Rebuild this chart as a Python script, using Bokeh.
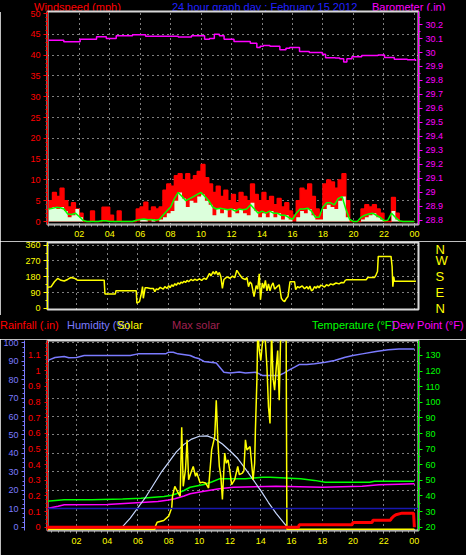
import numpy as np
from bokeh.plotting import figure
from bokeh.models import Range1d, LinearAxis, FixedTicker, Grid, Span, Div
from bokeh.layouts import column
from bokeh.embed import file_html
from bokeh.resources import INLINE

FONT = "Liberation Sans"

# ---------------- data ----------------
hour_ticks = [2, 4, 6, 8, 10, 12, 14, 16, 18, 20, 22, 24]
hour_labels = ["02", "04", "06", "08", "10", "12", "14", "16", "18", "20", "22", "00"]

# wind, 15-minute samples
wind_t = list(np.arange(0, 24.001, 0.25))
wind_gust = [5, 7, 6, 8, 5, 3.5, 4.5, 3, 2,
             0, 0, 2.5, 0, 0, 3.4, 3.4, 1.5, 0, 2.5, 0, 0, 0, 0,
             3, 3.5, 4.6, 2.5, 3.5, 3, 3.5,
             7.5, 9, 8.5,
             11, 11.5, 10, 11.5, 10, 11, 12, 13.7, 10.5, 9,
             7, 8.5, 6, 7.5, 5, 6.5, 4.5, 7, 6, 5, 9, 6.5, 5,
             7, 5, 6, 4, 5.5, 3.5, 4.5, 2.5, 1.5,
             5, 8, 7.5, 9, 6, 3,
             2, 9, 10, 9.5, 8, 10, 11.5, 5,
             0, 0, 0,
             3, 4, 3.5, 4, 3, 2,
             0, 0, 5.8, 2,
             0, 0, 0, 0, 0]
wind_speed = [3, 3.5, 3, 3.5, 2.5, 1, 1.5, 3, 1,
              0, 0, 0, 0, 0, 0, 0, 0, 0, 0, 0, 0, 0, 0,
              0, 0.5, 0.5, 0, 0.5, 0, 0.5,
              1, 2, 2.5,
              5, 7, 5.5, 3.5, 5, 4.5, 6, 6.5, 5, 4,
              1.5, 3, 2, 3, 1, 3, 2, 3, 2, 1.5, 4.5, 2.5, 1,
              2, 1, 2.5, 1, 2, 0.5, 1.5, 0.5, 0,
              1, 2.5, 2, 3, 1.5, 0.5,
              0.5, 3, 4, 3.5, 3, 5, 6, 1,
              0, 0, 0,
              0.5, 1, 1.5, 2, 1, 0.5,
              0, 0, 2.5, 0.5,
              0, 0, 0, 0, 0]
wind_avg = [3, 3.2, 3.4, 3.3, 3, 1.8, 1.7, 2, 1.2,
            0.3, 0, 0, 0, 0, 0.2, 0.2, 0, 0, 0, 0, 0, 0, 0,
            0.3, 0.5, 0.6, 0.4, 0.5, 0.3, 0.5,
            1.5, 2.5, 3.5,
            5.5, 7, 6, 5, 5.5, 6, 6.5, 7, 6, 5,
            3.5, 3, 3.2, 3, 2.8, 3, 2.5, 3, 2.8, 3, 4, 3, 2,
            2.5, 2, 2.5, 2, 2, 1.5, 1.5, 1, 0.5,
            2, 3, 3, 3.2, 2.5, 1,
            1, 3.5, 4.5, 4.5, 4, 5.5, 6, 3,
            0.5, 0, 0,
            1, 1.5, 1.8, 2, 1.5, 1,
            0.2, 0.3, 2, 1,
            0.2, 0, 0, 0, 0]

baro_t = [0.0, 0.13, 0.99, 2.06, 3.14, 3.78, 4.43, 5.5, 6.36, 7.44, 8.5, 9.37, 10.23, 10.55,
          10.87, 11.2, 11.51, 12.16, 13.23, 13.66, 13.88, 14.09, 14.52, 15.17, 15.57, 15.81,
          16.46, 17.1, 17.96, 18.17, 18.81, 19.1, 19.36, 19.57, 19.9, 20.54, 21.61, 22.04,
          22.68, 23.54, 24.08]
baro = [30.088, 30.088, 30.076, 30.095, 30.112, 30.100, 30.120, 30.126, 30.117, 30.117, 30.110,
        30.120, 30.095, 30.100, 30.130, 30.120, 30.095, 30.079, 30.067, 30.036, 30.045, 30.050,
        30.045, 30.019, 30.030, 30.036, 30.007, 30.000, 29.988, 29.962, 29.960, 29.955, 29.933,
        29.955, 29.969, 29.978, 29.982, 29.964, 29.952, 29.948, 29.940]
baro_ticks = [28.8, 28.9, 29, 29.1, 29.2, 29.3, 29.4, 29.5, 29.6, 29.7, 29.8, 29.9, 30, 30.1, 30.2]

dir_t = [0.1, 0.35, 0.56, 0.77, 0.99, 1.2, 1.42, 1.64, 1.85, 2.06, 2.3, 3.8, 3.85, 4.53, 4.57,
         5.89, 5.93, 6.1, 6.2, 6.3, 6.35, 6.47, 6.6, 6.8, 7.0, 7.1, 7.2, 7.3, 7.45, 7.65, 7.75,
         7.9, 8.0, 8.1, 8.2, 8.3, 8.4, 8.5, 8.6, 8.72, 8.8, 8.9, 9.0, 9.1, 9.2, 9.3, 9.45, 9.58,
         9.7, 9.85, 10.0, 10.15, 10.3, 10.45, 10.66, 10.75, 10.9, 11.0, 11.1, 11.2, 11.3, 11.4,
         11.5, 11.6, 11.8, 12.0, 12.16, 12.3, 12.44, 12.6, 12.8, 13.0, 13.1, 13.2, 13.3, 13.4,
         13.56, 13.7, 13.8, 13.9, 13.98, 14.1, 14.2, 14.3, 14.4, 14.5, 14.6, 14.7, 14.8, 14.9,
         15.06, 15.2, 15.34, 15.45, 15.55, 15.65, 15.77, 15.9, 16.2, 16.27, 16.4, 16.5, 16.7,
         16.85, 17.0, 17.1, 17.2, 17.3, 17.4, 17.5, 17.6, 17.7, 17.8, 17.9, 18.0, 18.15, 18.28,
         18.4, 18.55, 18.7, 18.9, 19.1, 19.25, 19.4, 19.5, 19.57, 20.86, 20.97, 21.4, 21.5,
         21.6, 21.65, 22.48, 22.55, 22.6, 22.66, 22.7, 24.1]
dir_deg = [120, 124, 152, 171, 160, 156, 165, 176, 172, 161, 161, 161, 83, 83, 101,
           101, 30, 39, 75, 124, 58, 118, 118, 114, 114, 96, 112, 107, 120, 110, 124,
           115, 130, 118, 135, 125, 141, 132, 146, 138, 150, 145, 155, 148, 160, 152, 165, 158,
           166, 160, 168, 160, 172, 165, 199, 185, 210, 195, 212, 190, 205, 180,
           114, 165, 180, 172, 184, 175, 217, 195, 172, 165, 176, 124, 150, 140,
           68, 130, 110, 197, 50, 145, 115, 160, 100, 140, 101, 130, 145, 110,
           124, 135, 58, 45, 39, 55, 68, 152, 152, 107, 125, 118, 128,
           112, 124, 110, 128, 100, 107, 125, 115, 128, 118, 132, 130, 122, 135,
           128, 140, 135, 145, 140, 148, 146, 160, 163, 163, 176, 176, 190,
           210, 296, 296, 240, 124, 180, 155, 155]
compass_ticks = [0, 90, 180, 270, 360]
compass_labels = ["N", "E", "S", "W", "N"]

hum_t = [0.0, 0.3, 0.6, 1.2, 1.5, 2.0, 2.5, 5.5, 6.0, 7.8, 8.0, 8.3, 8.6, 9.4, 9.7, 10.0, 10.3,
         11.1, 11.3, 11.6, 12.0, 12.6, 13.0, 13.7, 14.1, 15.2, 15.5, 15.8, 16.2, 16.5, 17.0,
         17.5, 18.2, 18.8, 19.5, 20.0, 20.6, 21.5, 22.3, 23.0, 24.0]
hum = [90, 91, 92, 92.6, 91.9, 92, 93.1, 93.1, 94, 94, 94.9, 94.9, 94, 93.1, 92, 91.3, 89.9,
       89, 87, 84, 83.6, 84.2, 83.6, 84, 82.3, 82.3, 83.6, 85, 86.8, 88.2, 88.2,
       88.6, 89.5, 90.4, 92.2, 93.1, 94, 95.3, 96.2, 96.7, 96.7]
hum_ticks = [0, 10, 20, 30, 40, 50, 60, 70, 80, 90, 100]

temp_t = [0.0, 1.2, 3.0, 5.0, 6.2, 7.7, 8.2, 8.5, 9.0, 9.4, 10.3, 10.8, 11.3, 13.0, 13.5, 14.1,
          14.6, 15.6, 16.6, 17.5, 18.2, 21.1, 21.4, 24.0]
temp = [36.5, 37.6, 37.6, 38.0, 38.6, 39.7, 40.5, 41.4, 43.5, 45.6, 47.4, 49, 51, 51, 51.5, 52,
        52, 51.5, 51, 50, 48.8, 48.8, 49.5, 49.5]
dew_t = [0.0, 0.8, 1.2, 4.0, 7.3, 8.0, 8.4, 9.0, 9.4, 10.3, 11.3, 12.2, 15.0, 16.5, 18.0, 20.6,
         21.7, 23.0, 24.0]
dew = [31.8, 33.5, 34.4, 34.5, 36.5, 37.5, 38.2, 40, 41.4, 43, 44.6, 45.6, 46.3, 46, 45.6, 46.3,
       47.2, 47.6, 47.8]
temp_ticks = [20, 30, 40, 50, 60, 70, 80, 90, 100, 110, 120, 130]
freeze_temp = 32

rain_t = [0, 16.45, 16.5, 19.95, 20.0, 21.25, 21.3, 22.45, 22.5, 22.65, 22.8, 23.2, 23.95, 24.0]
rain = [0, 0, 0.015, 0.015, 0.03, 0.03, 0.045, 0.045, 0.055, 0.07, 0.08, 0.09, 0.09, 0]
rain_ticks = [0, 0.1, 0.2, 0.3, 0.4, 0.5, 0.6, 0.7, 0.8, 0.9, 1, 1.1]

solar_t = [0, 7.1, 7.14, 7.25, 7.68, 8.0, 8.2, 8.25, 8.4, 8.6, 8.75, 8.85, 8.95, 9.1, 9.2, 9.3,
           9.45, 9.6, 9.75, 9.83, 10.05, 10.2, 10.4, 10.6, 10.8, 11.0, 11.1, 11.2, 11.3, 11.4,
           11.5, 11.65, 11.75, 11.87, 12.0, 12.1, 12.3, 12.5, 12.6, 12.8, 12.9, 13.0, 13.1,
           13.3, 13.5, 13.6, 13.65, 13.75, 13.8, 13.9, 14.0, 14.1, 14.2, 14.3, 14.4, 14.5,
           14.6, 14.7, 14.8, 14.9, 15.0, 15.1, 15.2, 15.3, 15.65, 15.7, 24.0]
solar = [0, 0, 17, 38, 47, 70, 114, 175, 228, 196, 175, 540, 228, 320, 474, 263,
         300, 333, 281, 300, 246, 250, 246, 219, 421, 491, 684, 474, 333, 280,
         158, 404, 350, 368, 300, 237, 263, 333, 290, 298, 310, 474, 420,
         439, 263, 350, 526, 800, 1050, 950, 895, 980, 1050, 990, 860, 649,
         561, 1050, 800, 737, 850, 947, 684, 1050, 1050, 0, 0]
maxsol_t = [5.0, 5.5, 6.0, 6.5, 7.0, 7.5, 8.0, 8.5, 9.0, 9.5, 10.0, 10.5, 11.0, 11.5, 12.0, 12.5,
            13.0, 13.5, 14.0, 14.5, 15.0, 15.5, 15.7]
maxsol = [15, 60, 115, 170, 235, 300, 355, 410, 450, 478, 493, 495, 480, 452, 415, 375,
          320, 263, 205, 142, 85, 35, 15]

top_titles = ["Windspeed (mph)", "24 hour graph day : February 15 2012", "Barometer (.in)"]
top_colors = ["#ff0000", "#2020ff", "#ff00ff"]
low_titles = ["Rainfall (.in)", "Humidity (%)", "Solar", "Max solar", "Temperature (&deg;F)",
              "Dew Point (&deg;F)"]
low_colors = ["#ff0000", "#7b7bff", "#ffff00", "#a02050", "#00ff00", "#ff00ff"]

# ---------------- helpers ----------------
BG = "black"
XMINOR = [i * 0.4 for i in range(61)]


def make_fig(height, xr, yr, left, right, top, bottom):
    p = figure(width=466, height=height, x_range=xr, y_range=yr, title=None,
               output_backend="svg", toolbar_location=None,
               x_axis_location=None, y_axis_location=None,
               background_fill_color=BG, border_fill_color=BG,
               min_border_left=left, min_border_right=right,
               min_border_top=top, min_border_bottom=bottom)
    p.center = [r for r in p.center if not isinstance(r, Grid)]
    p.outline_line_color = "#d8d8d8"
    p.outline_line_width = 2
    return p


def text_strip(height, xs, top, texts, colors):
    spans = "".join(
        f'<span style="position:absolute;left:{x}px;top:{top}px;color:{c};'
        f'white-space:nowrap;">{s}</span>'
        for x, s, c in zip(xs, texts, colors))
    html = (f'<div style="position:relative;width:466px;height:{height}px;overflow:hidden;'
            f'background:black;font-family:\'{FONT}\';font-size:11px;line-height:11px;">'
            f'{spans}</div>')
    return Div(text=html, width=466, height=height, margin=0,
               styles={"background-color": "black"})


def style_axis(ax, color, label_color=None, size="9px", tick_out=4, minor_out=2, standoff=3):
    ax.axis_line_color = color
    ax.major_tick_line_color = color
    ax.minor_tick_line_color = color
    ax.major_label_text_color = label_color or color
    ax.major_label_text_font = FONT
    ax.major_label_text_font_size = size
    ax.major_tick_out = tick_out
    ax.major_tick_in = 0
    ax.minor_tick_out = minor_out
    ax.minor_tick_in = 0
    ax.major_label_standoff = standoff


def add_grid(p, dim, ticks):
    g = Grid(dimension=dim, ticker=FixedTicker(ticks=ticks), grid_line_color="white",
             grid_line_dash="1 4", grid_line_width=1)
    p.add_layout(g)


def x_axis(p, standoff):
    ax = LinearAxis(ticker=FixedTicker(ticks=hour_ticks, minor_ticks=XMINOR),
                    major_label_overrides=dict(zip(hour_ticks, hour_labels)))
    style_axis(ax, "#b0b0b0", label_color="#ffff00", tick_out=3, minor_out=2, standoff=standoff)
    p.add_layout(ax, "below")
    return ax


# ---------------- title strip ----------------
t1 = text_strip(10, [34, 172, 372], 0, top_titles, top_colors)

# ---------------- top panel: wind + barometer ----------------
p1 = make_fig(231, Range1d(-0.08, 24.27), Range1d(-0.72, 50.48), 40, 48, 1, 17)
p1.extra_y_ranges = {"baro": Range1d(28.771, 30.293)}
add_grid(p1, 0, hour_ticks)
add_grid(p1, 1, [5, 10, 15, 20, 25, 30, 35, 40, 45])

p1.varea_step(x=wind_t, y1=0, y2=wind_gust, step_mode="after", fill_color="#ff0000")
p1.step(wind_t, wind_gust, mode="after", line_color="#ff0000", line_width=1.5)
p1.varea_step(x=wind_t, y1=0, y2=wind_speed, step_mode="after", fill_color="#dcffdc")
p1.line(wind_t, wind_avg, line_color="#00ff00", line_width=1.5)
p1.step(baro_t, baro, mode="after", y_range_name="baro", line_color="#ff00ff", line_width=1.5)

wind_ticks = [0, 5, 10, 15, 20, 25, 30, 35, 40, 45, 50]
ax = LinearAxis(ticker=FixedTicker(ticks=wind_ticks, minor_ticks=list(range(51))))
style_axis(ax, "#ff0000")
p1.add_layout(ax, "left")
ax = LinearAxis(y_range_name="baro",
                ticker=FixedTicker(ticks=baro_ticks, minor_ticks=[t + 0.05 for t in baro_ticks]),
                major_label_overrides={t: str(t) for t in baro_ticks})
style_axis(ax, "#ff00ff")
p1.add_layout(ax, "right")
x_axis(p1, 3)

# ---------------- middle panel: wind direction ----------------
p2 = make_fig(74, Range1d(0.11, 24.27), Range1d(-5.7, 375), 43, 48, 1, 6)
add_grid(p2, 0, hour_ticks)
add_grid(p2, 1, [90, 180, 270, 360])
p2.line(dir_t, dir_deg, line_color="#ffff00", line_width=1.5)

ax = LinearAxis(ticker=FixedTicker(ticks=compass_ticks,
                                   minor_ticks=[0, 45, 90, 135, 180, 225, 270, 315, 360]))
style_axis(ax, "#ffff00")
p2.add_layout(ax, "left")
ax = LinearAxis(ticker=FixedTicker(ticks=compass_ticks),
                major_label_overrides=dict(zip(compass_ticks, compass_labels)))
style_axis(ax, "#ffff00", size="13px", tick_out=0, minor_out=0, standoff=17)
ax.axis_line_color = None
ax.major_tick_line_color = None
ax.minor_tick_line_color = None
p2.add_layout(ax, "right")

# ---------------- legend strip ----------------
t3 = text_strip(24, [0, 67, 117, 172, 312, 392], 5, low_titles, low_colors)

# ---------------- bottom panel ----------------
p3 = make_fig(216, Range1d(0.11, 24.27), Range1d(-1.8, 101.25), 43, 48, 1, 25)
p3.extra_y_ranges = {"rain": Range1d(-0.021, 1.194), "temp": Range1d(17.9, 139.6),
                     "solar": Range1d(-6, 1000)}
add_grid(p3, 0, hour_ticks)
add_grid(p3, 1, [10, 20, 30, 40, 50, 60, 70, 80, 90, 100])

p3.add_layout(Span(location=freeze_temp, dimension="width", y_range_name="temp",
                   line_color="#1818b0", line_width=1.5))
p3.line(hum_t, hum, line_color="#7b7bff", line_width=1.5)
p3.line(dew_t, dew, y_range_name="temp", line_color="#ff00ff", line_width=1.5)
p3.line(temp_t, temp, y_range_name="temp", line_color="#00ff00", line_width=1.5)
p3.line(maxsol_t, maxsol, y_range_name="solar", line_color="#c8d8ff", line_width=1.2)
p3.line(solar_t, solar, y_range_name="solar", line_color="#ffff00", line_width=1.5)
p3.line(rain_t, rain, y_range_name="rain", line_color="#ff0000", line_width=3)

ax = LinearAxis(y_range_name="rain",
                ticker=FixedTicker(ticks=rain_ticks,
                                   minor_ticks=[t * 0.025 for t in range(48)]),
                major_label_overrides={t: str(t) for t in rain_ticks})
style_axis(ax, "#ff0000", tick_out=3, standoff=4)
p3.add_layout(ax, "left")
ax = LinearAxis(ticker=FixedTicker(ticks=hum_ticks, minor_ticks=[t * 2.5 for t in range(41)]))
style_axis(ax, "#7b7bff", tick_out=3, standoff=3)
p3.add_layout(ax, "left")
ax = LinearAxis(y_range_name="temp",
                ticker=FixedTicker(ticks=temp_ticks, minor_ticks=[20 + 5 * i for i in range(24)]))
style_axis(ax, "#00ff00", tick_out=4, standoff=3)
p3.add_layout(ax, "right")
x_axis(p3, 4)

layout = column(t1, p1, p2, t3, p3, spacing=0)
open("out.html", "w", encoding="utf-8").write(file_html(layout, INLINE))
